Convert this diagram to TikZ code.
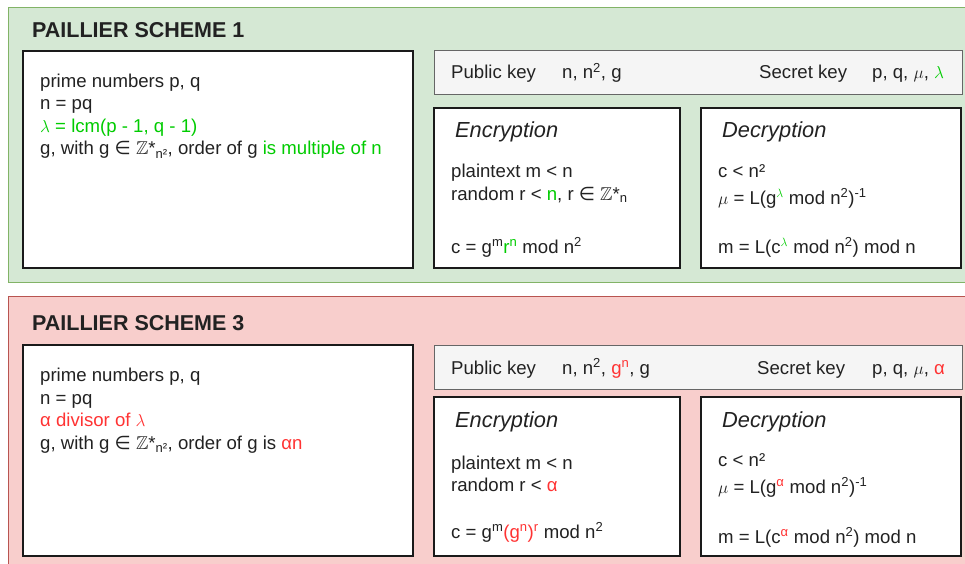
\documentclass[tikz,border=0pt]{standalone}
\usepackage{amsmath}
\usepackage{amssymb}
\usepackage{fontspec}
\setmainfont{Liberation Sans}
\newfontfamily\symfont{DejaVu Sans}
\usetikzlibrary{positioning}
\definecolor{panelgreen}{HTML}{D5E8D4}
\definecolor{panelgreenline}{HTML}{82B366}
\definecolor{panelred}{HTML}{F8CECC}
\definecolor{panelredline}{HTML}{B85450}
\definecolor{keyfill}{HTML}{F5F5F5}
\definecolor{keyline}{HTML}{666666}
\definecolor{boxline}{HTML}{1A1A1A}
\definecolor{textdark}{HTML}{222222}
\definecolor{hlgreen}{HTML}{00CC00}
\definecolor{hlred}{HTML}{FF3333}
\newcommand{\Zstar}{{\symfont ∈} $\mathbb{Z}$*}

\begin{document}
\begin{tikzpicture}[
    x=1pt, y=-1pt,
    panelone/.style={draw=panelgreenline, fill=panelgreen, line width=1pt},
    panelthree/.style={draw=panelredline, fill=panelred, line width=1pt},
    whitebox/.style={draw=boxline, fill=white, line width=1.3pt, anchor=north west,
                     inner sep=0pt, outer sep=0pt},
    keybar/.style={draw=keyline, fill=keyfill, line width=1pt, anchor=north west,
                   inner sep=0pt, outer sep=0pt, minimum width=528pt, minimum height=44pt},
    title/.style={anchor=base west, inner sep=0pt, text=textdark,
                  font=\fontsize{21.5}{24}\selectfont\bfseries},
    heading/.style={anchor=base west, inner sep=0pt, text=textdark,
                    font=\fontsize{21.8}{24}\selectfont\itshape},
    txt/.style={anchor=base west, inner sep=0pt, text=textdark,
                font=\fontsize{18.6}{22}\selectfont},
]
    \useasboundingbox (0,0) rectangle (965,564);

    % Scheme 1 panel
    \draw[panelone] (8,8) rectangle (975,282);
    \node[title] (t1) at (32,37.5) {PAILLIER SCHEME 1};

    \node[whitebox, minimum width=390pt, minimum height=217pt] (setup1) at (23,51) {};
    \node[txt] (s1a) at (40,88) {prime numbers p, q};
    \node[txt] (s1b) at (40,110) {n = pq};
    \node[txt, text=hlgreen] (s1c) at (40,133) {$\lambda$ = lcm(p - 1, q - 1)};
    \node[txt] (s1d) at (40,155) {g, with g \Zstar\textsubscript{n²}, order of g
        {\color{hlgreen}is multiple of n}};

    \node[keybar] (keys1) at (434,51) {};
    \node[txt] (pk1) at (451,79) {Public key};
    \node[txt] (pv1) at (562,79) {n, n\textsuperscript{2}, g};
    \node[txt] (sk1) at (759,79) {Secret key};
    \node[txt] (sv1) at (872,79) {p, q, $\mu$, {\color{hlgreen}$\lambda$}};

    \node[whitebox, minimum width=246pt, minimum height=160pt] (enc1) at (434,108) {};
    \node[heading] (eh1) at (455,138) {Encryption};
    \node[txt] (e1a) at (451,178) {plaintext m < n};
    \node[txt] (e1b) at (451,200) {random r < {\color{hlgreen}n}, r \Zstar\textsubscript{n}};
    \node[txt] (e1c) at (451,253) {c = g\textsuperscript{m}{\color{hlgreen}r\textsuperscript{n}}
        mod n\textsuperscript{2}};

    \node[whitebox, minimum width=260pt, minimum height=160pt] (dec1) at (701,108) {};
    \node[heading] (dh1) at (722,138) {Decryption};
    \node[txt] (d1a) at (718,178) {c < n²};
    \node[txt] (d1b) at (718,204) {$\mu$ = L(g\textsuperscript{\color{hlgreen}$\lambda$}
        mod n\textsuperscript{2})\textsuperscript{-1}};
    \node[txt] (d1c) at (718,253) {m = L(c\textsuperscript{\color{hlgreen}$\lambda$}
        mod n\textsuperscript{2}) mod n};

    % Scheme 3 panel
    \draw[panelthree] (8,296) rectangle (975,580);
    \node[title] (t3) at (32,330.5) {PAILLIER SCHEME 3};

    \node[whitebox, minimum width=390pt, minimum height=211pt] (setup3) at (23,345) {};
    \node[txt] (s3a) at (40,381) {prime numbers p, q};
    \node[txt] (s3b) at (40,404) {n = pq};
    \node[txt, text=hlred] (s3c) at (40,426) {α divisor of $\lambda$};
    \node[txt] (s3d) at (40,449) {g, with g \Zstar\textsubscript{n²}, order of g is
        {\color{hlred}αn}};

    \node[keybar] (keys3) at (434,345) {};
    \node[txt] (pk3) at (451,374) {Public key};
    \node[txt] (pv3) at (562,374) {n, n\textsuperscript{2}, {\color{hlred}g\textsuperscript{n}}, g};
    \node[txt] (sk3) at (757,374) {Secret key};
    \node[txt] (sv3) at (872,374) {p, q, $\mu$, {\color{hlred}α}};

    \node[whitebox, minimum width=246pt, minimum height=159pt] (enc3) at (434,397) {};
    \node[heading] (eh3) at (455,427) {Encryption};
    \node[txt] (e3a) at (451,469) {plaintext m < n};
    \node[txt] (e3b) at (451,491) {random r < {\color{hlred}α}};
    \node[txt] (e3c) at (451,538) {c = g\textsuperscript{m}{\color{hlred}(g\textsuperscript{n})\textsuperscript{r}}
        mod n\textsuperscript{2}};

    \node[whitebox, minimum width=260pt, minimum height=159pt] (dec3) at (701,397) {};
    \node[heading] (dh3) at (722,427) {Decryption};
    \node[txt] (d3a) at (718,466) {c < n²};
    \node[txt] (d3b) at (718,493) {$\mu$ = L(g\textsuperscript{\color{hlred}α}
        mod n\textsuperscript{2})\textsuperscript{-1}};
    \node[txt] (d3c) at (718,543) {m = L(c\textsuperscript{\color{hlred}α}
        mod n\textsuperscript{2}) mod n};
\end{tikzpicture}
\end{document}
